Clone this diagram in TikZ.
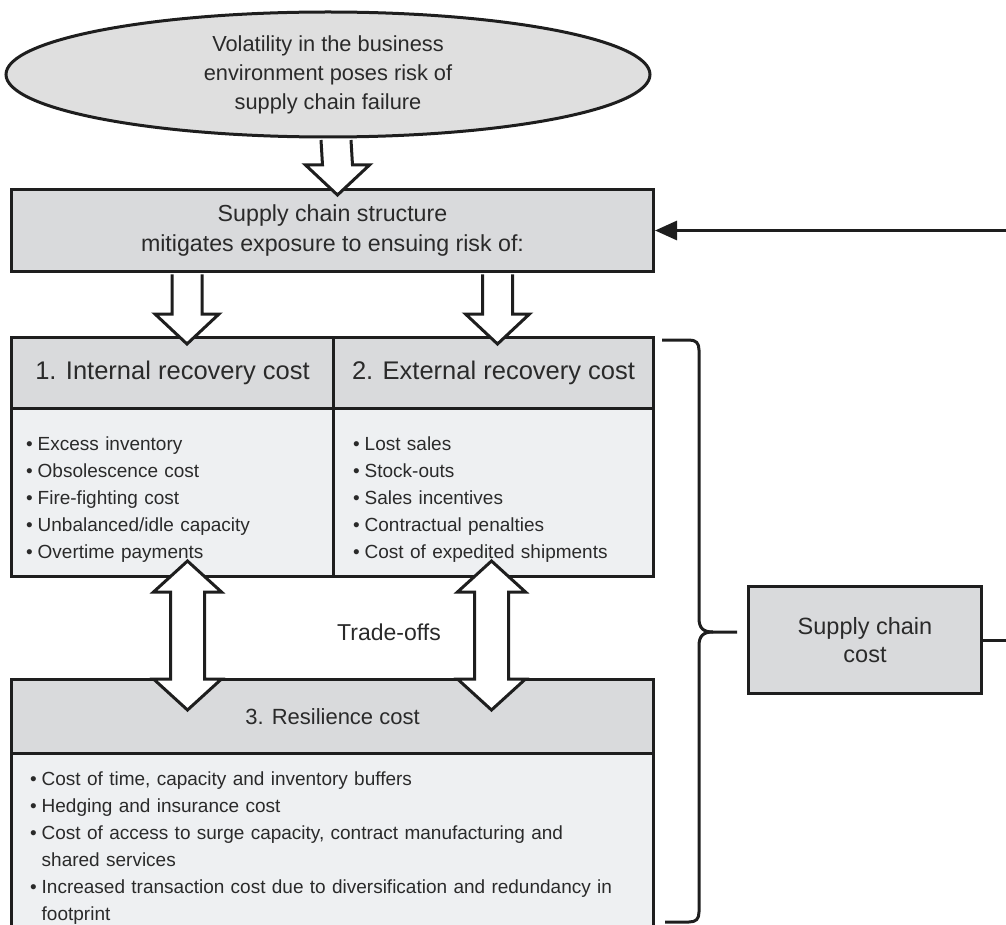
\documentclass[tikz,border=0pt]{standalone}
\usepackage{fontspec}
\setmainfont{Liberation Sans}
\usetikzlibrary{shapes.geometric,arrows.meta,calc}

\definecolor{linec}{HTML}{1E1E1E}
\definecolor{textc}{HTML}{2A2A2A}
\definecolor{headfill}{HTML}{D9DADC}
\definecolor{bodyfill}{HTML}{EEF0F2}
\definecolor{ellfill}{HTML}{DFDFDF}

% bullet item and the indent of its continuation lines
\newlength\bulw
\setlength\bulw{11.5pt}
\newcommand\bul{\par\noindent\makebox[\bulw][l]{\textbullet}}
\newcommand\cont{\\\hspace*{\bulw}}

% hollow block arrow pointing down: shaft top #1, tip #2 (same x)
\newcommand\arrowdown[2]{%
  \draw[blockarrow] ($(#1)+(-15,0)$) -- ($(#2)+(-15,-30)$) -- ($(#2)+(-32,-30)$)
    -- (#2) -- ($(#2)+(32,-30)$) -- ($(#2)+(15,-30)$) -- ($(#1)+(15,0)$);}

% hollow double-headed block arrow: upper tip #1, lower tip #2
\newcommand\arrowboth[2]{%
  \draw[blockarrow] (#1) -- ($(#1)+(34,31)$) -- ($(#1)+(17,31)$) -- ($(#2)+(17,-31)$)
    -- ($(#2)+(34,-31)$) -- (#2) -- ($(#2)+(-34,-31)$) -- ($(#2)+(-17,-31)$)
    -- ($(#1)+(-17,31)$) -- ($(#1)+(-34,31)$) -- cycle;}

\begin{document}
\begin{tikzpicture}[x=1pt,y=-1pt,
  outline/.style={draw=linec,line width=3pt},
  cell/.style={outline,rectangle,inner sep=0pt,anchor=north west,text=textc},
  headcell/.style={cell,fill=headfill,font=\fontsize{25.5}{30}\selectfont},
  bodycell/.style={cell,fill=bodyfill},
  bullets/.style={anchor=west,inner sep=0pt,text=textc,align=left,
    font=\fontsize{19}{27}\selectfont},
  blockarrow/.style={outline,fill=white,line join=miter},
  link/.style={draw=linec,line width=3pt}]

\useasboundingbox (0,0) rectangle (1006,925);
\clip (0,0) rectangle (1006,925);

% risk source
\node[ellipse,outline,fill=ellfill,minimum width=644pt,minimum height=125pt,
  inner sep=0pt,text=textc,align=center,font=\fontsize{21.8}{29}\selectfont]
  (risk) at (328,74.5) {Volatility in the business\\environment poses risk of\\supply chain failure};

% supply chain structure
\node[cell,fill=headfill,minimum width=642pt,minimum height=82pt,align=center,
  font=\fontsize{23.2}{30}\selectfont] (struct) at (10,188)
  {Supply chain structure\\mitigates exposure to ensuing risk of:};

% recovery cost table
\node[headcell,minimum width=322pt,minimum height=71pt] (int) at (10,336) {1. Internal recovery cost};
\node[headcell,minimum width=320pt,minimum height=71pt] (ext) at (332,336) {2. External recovery cost};
\node[bodycell,minimum width=322pt,minimum height=168pt] (intb) at (10,407) {};
\node[bodycell,minimum width=320pt,minimum height=168pt] (extb) at (332,407) {};
\node[bullets,text width=300pt] (intl) at ($(intb.west)+(16,0)$)
  {\bul Excess inventory
   \bul Obsolescence cost
   \bul Fire-fighting cost
   \bul Unbalanced/idle capacity
   \bul Overtime payments};
\node[bullets,text width=295pt] (extl) at ($(extb.west)+(21,0)$)
  {\bul Lost sales
   \bul Stock-outs
   \bul Sales incentives
   \bul Contractual penalties
   \bul Cost of expedited shipments};

% resilience cost
\node[headcell,minimum width=642pt,minimum height=74pt,font=\fontsize{22}{28}\selectfont]
  (res) at (10,678) {3. Resilience cost};
\node[bodycell,minimum width=642pt,minimum height=176pt] (resb) at (10,752) {};
\node[bullets,text width=640pt] (resl) at ($(resb.west)+(20,0)$)
  {\bul Cost of time, capacity and inventory buffers
   \bul Hedging and insurance cost
   \bul Cost of access to surge capacity, contract manufacturing and\cont shared services
   \bul Increased transaction cost due to diversification and redundancy in\cont footprint};

% total cost
\node[cell,fill=headfill,minimum width=233pt,minimum height=107pt,align=center,
  font=\fontsize{23.5}{28}\selectfont] (scc) at (747,585) {Supply chain\\cost};

\node[text=textc,font=\fontsize{23}{25}\selectfont] (trade) at (389,632) {Trade-offs};

% block arrows
\coordinate (a0s) at ($(risk.south)+(8,1.5)$);
\coordinate (a0t) at ($(struct.north)+(5,7)$);
\coordinate (a1s) at ($(struct.south)+(-145.5,1.5)$);
\coordinate (a1t) at ($(int.north)+(14.5,8)$);
\coordinate (a2s) at ($(struct.south)+(165,1.5)$);
\coordinate (a2t) at ($(ext.north)+(4,8)$);
\coordinate (d1a) at ($(intb.south)+(15,-17)$);
\coordinate (d1b) at ($(res.north)+(-145,32)$);
\coordinate (d2a) at ($(extb.south)+(-2,-17)$);
\coordinate (d2b) at ($(res.north)+(159,32)$);

\arrowdown{a0s}{a0t}
\arrowdown{a1s}{a1t}
\arrowdown{a2s}{a2t}
\arrowboth{d1a}{d1b}
\arrowboth{d2a}{d2b}

% brace gathering the three cost groups
\draw[link] (662,340) -- (689,340) .. controls (696,340) and (699,343) .. (699,350)
  -- (699,618) .. controls (699,628) and (703,632) .. (713,632) -- (737,632);
\draw[link] (713,632) .. controls (703,632) and (699,636) .. (699,646)
  -- (699,912) .. controls (699,919) and (696,922) .. (689,922) -- (665,922);

% feedback loop into the structure
\coordinate (loop) at (1030,400);
\draw[link,-{Triangle[length=22pt,width=19pt]}] (scc.east) -- (scc.east -| loop)
  -- (struct.east -| loop) -- (struct.east);
\end{tikzpicture}
\end{document}
